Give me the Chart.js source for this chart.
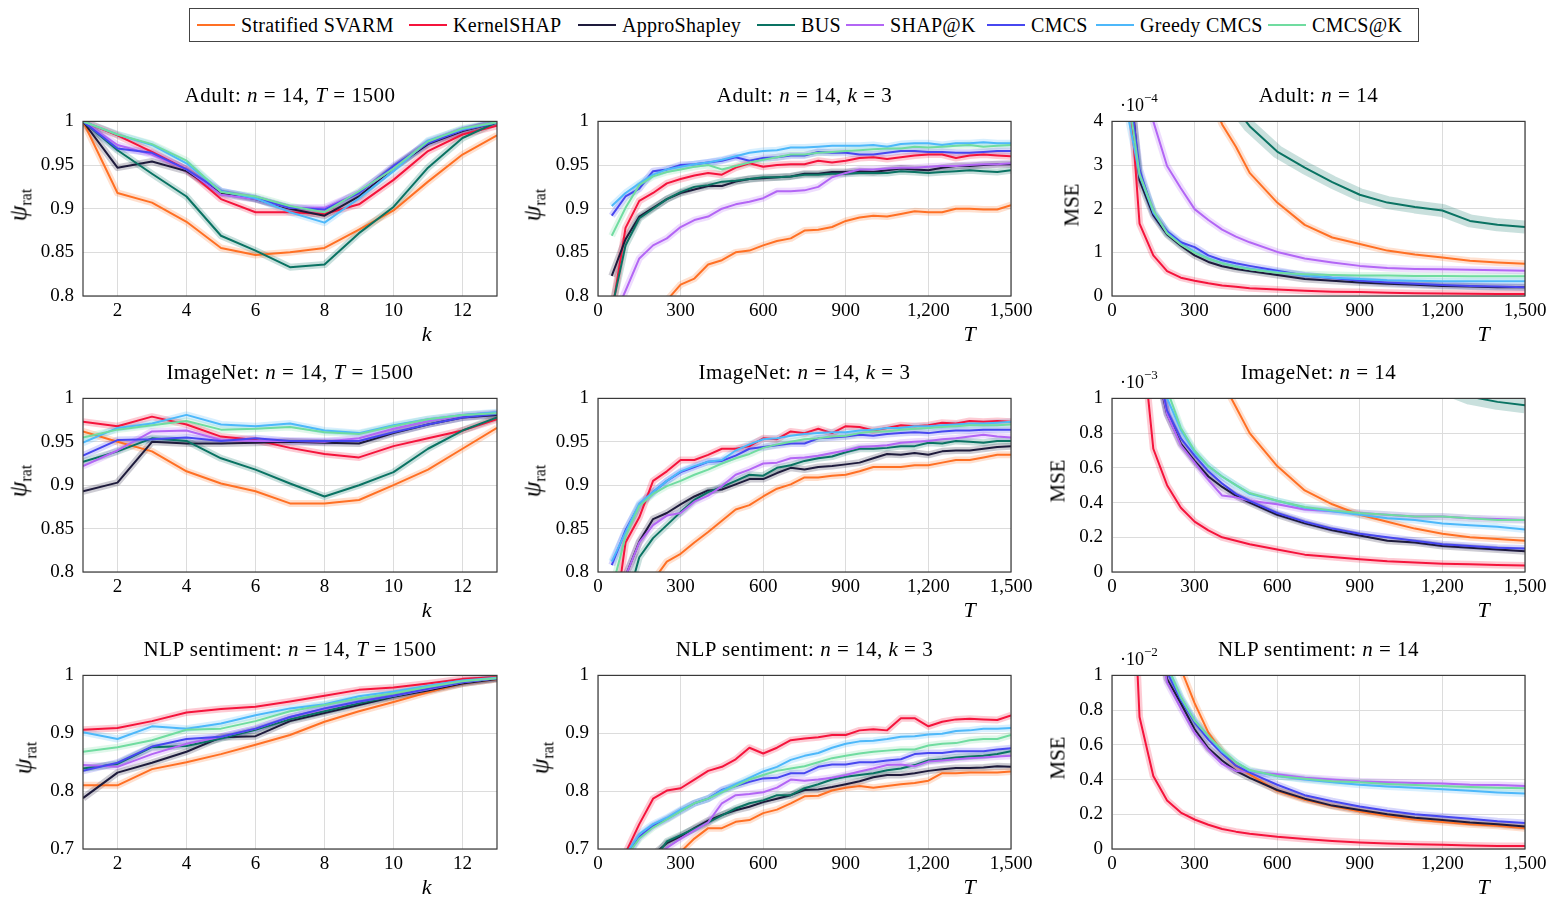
<!DOCTYPE html>
<html>
<head>
<meta charset="utf-8">
<script src="https://cdn.jsdelivr.net/npm/chart.js@4.4.1/dist/chart.umd.min.js"></script>
<style>
  body { margin: 0; background: #fff; font-family: "Liberation Serif", serif; color: #000; }
  #page { position: relative; width: 1563px; height: 901px; overflow: hidden; }
  #page canvas { position: absolute; }
  .lbl { position: absolute; white-space: nowrap; transform: translate(-50%, -50%); line-height: 1; }
  .ttl { font-size: 21px; letter-spacing: 0.5px; }
  .xl { font-size: 22px; font-style: italic; }
  .yl { font-size: 21px; transform: translate(-50%, -50%) rotate(-90deg); }
  .yl i { font-size: 25px; }
  .ex { position: absolute; font-size: 18px; white-space: nowrap; line-height: 1; transform: translateY(-50%); }
  .ex sup { font-size: 13px; position: relative; top: -2px; }
  sub { font-size: 16px; }
  #legend { position: absolute; left: 189px; top: 8px; width: 1230px; height: 34px; border: 1px solid #444; box-sizing: border-box; }
  .item { position: absolute; top: 0; height: 32px; display: flex; align-items: center; font-size: 20px; letter-spacing: 0.3px; white-space: nowrap; }
  .item span.sw { display: inline-block; width: 38px; height: 2px; margin-right: 6px; }
</style>
</head>
<body>
<div id="page">
  <div id="legend"></div>
</div>
<script>
// methods in legend order
const methods = ["Stratified SVARM", "KernelSHAP", "ApproShapley", "BUS", "SHAP@K", "CMCS", "Greedy CMCS", "CMCS@K"];
const lineColors = ["#ff7024", "#f5143c", "#1e1b3c", "#0a7363", "#b366f5", "#4747f0", "#4db8fa", "#70dca0"];

// x values
const kValues = [1, 2, 3, 4, 5, 6, 7, 8, 9, 10, 11, 12, 13];
const tValues = [50, 100, 150, 200, 250, 300, 350, 400, 450, 500, 550, 600, 650, 700, 750,
                 800, 850, 900, 950, 1000, 1050, 1100, 1150, 1200, 1250, 1300, 1350, 1400, 1450, 1500];
const mseT = [50, 100, 150, 200, 250, 300, 350, 400, 450, 500, 600, 700, 800, 900, 1000, 1100, 1200, 1300, 1400, 1500];

// tick labels
const kTicks = [2, 4, 6, 8, 10, 12];
const tTicks = [0, 300, 600, 900, 1200, 1500];
const psiTicks = [0.8, 0.85, 0.9, 0.95, 1];
const psiTicksNlp = [0.7, 0.8, 0.9, 1];
const mseTicksAdult = [0, 1, 2, 3, 4];
const mseTicks = [0, 0.2, 0.4, 0.6, 0.8, 1];

// rows: SVARM, KernelSHAP, ApproShapley, BUS, SHAP@K, CMCS, Greedy CMCS, CMCS@K
const adultK = [
  [1.0, 0.918, 0.907, 0.885, 0.855, 0.847, 0.850, 0.855, 0.876, 0.898, 0.931, 0.962, 0.984],
  [1.0, 0.984, 0.965, 0.945, 0.911, 0.896, 0.896, 0.894, 0.905, 0.933, 0.966, 0.985, 0.995],
  [1.0, 0.947, 0.954, 0.943, 0.918, 0.911, 0.900, 0.892, 0.914, 0.947, 0.974, 0.989, 0.999],
  [1.0, 0.967, 0.940, 0.914, 0.869, 0.852, 0.833, 0.836, 0.872, 0.902, 0.947, 0.981, 0.999],
  [1.0, 0.973, 0.962, 0.945, 0.916, 0.911, 0.901, 0.901, 0.918, 0.947, 0.976, 0.990, 0.999],
  [1.0, 0.969, 0.964, 0.945, 0.920, 0.912, 0.901, 0.899, 0.918, 0.949, 0.975, 0.990, 0.999],
  [1.0, 0.985, 0.973, 0.952, 0.920, 0.912, 0.896, 0.884, 0.912, 0.943, 0.978, 0.991, 0.999],
  [1.0, 0.985, 0.974, 0.955, 0.919, 0.914, 0.903, 0.896, 0.920, 0.946, 0.977, 0.992, 0.999]
];
const adultT = [
  [0.68, 0.73, 0.76, 0.78, 0.795, 0.813, 0.820, 0.836, 0.841, 0.850, 0.852, 0.858, 0.863, 0.866, 0.875, 0.876, 0.879, 0.886, 0.890, 0.892, 0.891, 0.894, 0.897, 0.896, 0.896, 0.900, 0.900, 0.899, 0.899, 0.904],
  [0.78, 0.878, 0.909, 0.918, 0.929, 0.934, 0.938, 0.941, 0.939, 0.947, 0.952, 0.948, 0.950, 0.951, 0.951, 0.955, 0.953, 0.955, 0.958, 0.959, 0.957, 0.959, 0.961, 0.962, 0.962, 0.958, 0.961, 0.962, 0.961, 0.960],
  [0.823, 0.865, 0.891, 0.901, 0.911, 0.918, 0.922, 0.926, 0.926, 0.931, 0.934, 0.935, 0.936, 0.937, 0.940, 0.940, 0.942, 0.942, 0.943, 0.942, 0.944, 0.946, 0.945, 0.944, 0.947, 0.949, 0.949, 0.950, 0.951, 0.951],
  [0.785, 0.858, 0.889, 0.900, 0.911, 0.919, 0.925, 0.927, 0.931, 0.932, 0.934, 0.936, 0.936, 0.937, 0.939, 0.939, 0.940, 0.940, 0.941, 0.941, 0.941, 0.943, 0.942, 0.941, 0.942, 0.943, 0.944, 0.943, 0.942, 0.944],
  [0.77, 0.806, 0.843, 0.858, 0.866, 0.879, 0.887, 0.891, 0.900, 0.905, 0.908, 0.912, 0.920, 0.920, 0.921, 0.925, 0.936, 0.941, 0.945, 0.945, 0.946, 0.947, 0.947, 0.948, 0.949, 0.949, 0.950, 0.951, 0.951, 0.952],
  [0.892, 0.914, 0.923, 0.943, 0.945, 0.950, 0.951, 0.953, 0.955, 0.959, 0.955, 0.958, 0.959, 0.961, 0.961, 0.965, 0.964, 0.964, 0.962, 0.962, 0.964, 0.966, 0.966, 0.965, 0.965, 0.964, 0.964, 0.965, 0.966, 0.966],
  [0.903, 0.918, 0.929, 0.939, 0.945, 0.948, 0.951, 0.953, 0.956, 0.960, 0.964, 0.966, 0.967, 0.970, 0.970, 0.971, 0.972, 0.972, 0.972, 0.973, 0.971, 0.974, 0.975, 0.975, 0.973, 0.975, 0.975, 0.976, 0.975, 0.975],
  [0.869, 0.901, 0.927, 0.937, 0.942, 0.945, 0.948, 0.950, 0.945, 0.949, 0.953, 0.956, 0.959, 0.962, 0.962, 0.964, 0.965, 0.966, 0.967, 0.968, 0.969, 0.969, 0.971, 0.970, 0.971, 0.972, 0.973, 0.971, 0.972, 0.973]
];
// MSE in units of 1e-4
const adultMse = [
  [20, 14, 10, 8, 6.5, 5.4, 4.7, 3.93, 3.42, 2.82, 2.14, 1.63, 1.34, 1.19, 1.04, 0.95, 0.88, 0.81, 0.77, 0.74],
  [6.0, 1.66, 0.93, 0.57, 0.42, 0.35, 0.29, 0.24, 0.21, 0.18, 0.15, 0.12, 0.10, 0.09, 0.075, 0.065, 0.06, 0.05, 0.045, 0.045],
  [6.0, 2.65, 1.85, 1.41, 1.15, 0.93, 0.78, 0.68, 0.62, 0.57, 0.48, 0.39, 0.35, 0.31, 0.28, 0.26, 0.23, 0.22, 0.20, 0.20],
  [20, 13, 10, 8.5, 7, 6, 5.4, 4.8, 4.3, 3.89, 3.31, 2.94, 2.61, 2.32, 2.14, 2.04, 1.96, 1.72, 1.63, 1.58],
  [9, 6, 4.0, 2.98, 2.47, 1.99, 1.74, 1.52, 1.36, 1.23, 1.01, 0.86, 0.77, 0.69, 0.64, 0.62, 0.61, 0.60, 0.59, 0.58],
  [5.5, 2.9, 1.9, 1.48, 1.23, 1.12, 0.93, 0.82, 0.75, 0.69, 0.58, 0.47, 0.41, 0.35, 0.31, 0.28, 0.25, 0.23, 0.22, 0.20],
  [4.4, 2.76, 1.92, 1.45, 1.19, 1.01, 0.86, 0.75, 0.68, 0.62, 0.55, 0.47, 0.42, 0.39, 0.36, 0.35, 0.34, 0.34, 0.34, 0.34],
  [5.0, 2.8, 1.96, 1.43, 1.18, 0.99, 0.85, 0.75, 0.67, 0.61, 0.53, 0.50, 0.48, 0.47, 0.47, 0.46, 0.46, 0.45, 0.45, 0.45]
];

const imagenetK = [
  [0.962, 0.950, 0.939, 0.916, 0.902, 0.893, 0.879, 0.879, 0.883, 0.900, 0.918, 0.942, 0.966],
  [0.973, 0.968, 0.979, 0.970, 0.956, 0.952, 0.943, 0.936, 0.932, 0.945, 0.954, 0.963, 0.976],
  [0.893, 0.903, 0.950, 0.948, 0.948, 0.949, 0.950, 0.949, 0.948, 0.960, 0.970, 0.978, 0.981],
  [0.927, 0.939, 0.954, 0.951, 0.931, 0.918, 0.902, 0.887, 0.900, 0.915, 0.942, 0.963, 0.978],
  [0.922, 0.940, 0.962, 0.963, 0.952, 0.951, 0.951, 0.950, 0.954, 0.965, 0.974, 0.980, 0.983],
  [0.934, 0.952, 0.953, 0.955, 0.951, 0.954, 0.951, 0.951, 0.951, 0.961, 0.970, 0.978, 0.982],
  [0.949, 0.966, 0.971, 0.981, 0.970, 0.968, 0.971, 0.963, 0.960, 0.969, 0.976, 0.981, 0.984],
  [0.955, 0.964, 0.969, 0.974, 0.964, 0.965, 0.967, 0.961, 0.959, 0.968, 0.976, 0.981, 0.983]
];
const imagenetT = [
  [0.65, 0.70, 0.75, 0.79, 0.812, 0.821, 0.834, 0.846, 0.859, 0.872, 0.877, 0.887, 0.896, 0.901, 0.909, 0.909, 0.911, 0.912, 0.916, 0.921, 0.921, 0.921, 0.923, 0.923, 0.926, 0.929, 0.929, 0.932, 0.935, 0.935],
  [0.72, 0.834, 0.863, 0.905, 0.916, 0.929, 0.929, 0.935, 0.942, 0.942, 0.945, 0.954, 0.953, 0.962, 0.960, 0.965, 0.960, 0.968, 0.967, 0.963, 0.966, 0.969, 0.968, 0.969, 0.972, 0.971, 0.974, 0.973, 0.974, 0.973],
  [0.70, 0.795, 0.835, 0.861, 0.868, 0.878, 0.887, 0.894, 0.895, 0.901, 0.907, 0.907, 0.914, 0.920, 0.918, 0.921, 0.922, 0.924, 0.926, 0.931, 0.936, 0.935, 0.937, 0.935, 0.939, 0.940, 0.940, 0.942, 0.944, 0.945],
  [0.70, 0.76, 0.817, 0.839, 0.854, 0.869, 0.883, 0.892, 0.898, 0.905, 0.912, 0.911, 0.920, 0.923, 0.928, 0.931, 0.933, 0.938, 0.942, 0.942, 0.943, 0.945, 0.945, 0.949, 0.948, 0.951, 0.950, 0.949, 0.951, 0.951],
  [0.72, 0.795, 0.834, 0.854, 0.865, 0.868, 0.881, 0.888, 0.899, 0.912, 0.918, 0.925, 0.926, 0.931, 0.932, 0.934, 0.937, 0.940, 0.944, 0.945, 0.946, 0.949, 0.950, 0.951, 0.953, 0.954, 0.956, 0.958, 0.956, 0.955],
  [0.808, 0.848, 0.877, 0.892, 0.905, 0.915, 0.921, 0.927, 0.928, 0.934, 0.942, 0.944, 0.946, 0.948, 0.948, 0.954, 0.955, 0.956, 0.958, 0.957, 0.959, 0.960, 0.961, 0.960, 0.962, 0.963, 0.963, 0.964, 0.964, 0.964],
  [0.812, 0.846, 0.879, 0.892, 0.905, 0.916, 0.922, 0.927, 0.929, 0.940, 0.947, 0.953, 0.954, 0.957, 0.959, 0.960, 0.961, 0.961, 0.963, 0.964, 0.966, 0.966, 0.968, 0.968, 0.969, 0.970, 0.971, 0.971, 0.972, 0.973],
  [0.78, 0.841, 0.876, 0.890, 0.899, 0.905, 0.912, 0.918, 0.925, 0.931, 0.936, 0.943, 0.947, 0.950, 0.953, 0.954, 0.956, 0.957, 0.960, 0.962, 0.962, 0.964, 0.965, 0.966, 0.967, 0.968, 0.969, 0.969, 0.969, 0.970]
];
// MSE in units of 1e-3
const imagenetMse = [
  [3, 2.5, 2, 1.7, 1.45, 1.3, 1.18, 1.1, 0.95, 0.80, 0.61, 0.47, 0.39, 0.33, 0.29, 0.25, 0.22, 0.20, 0.19, 0.18],
  [3, 1.5, 0.71, 0.50, 0.37, 0.29, 0.24, 0.20, 0.18, 0.16, 0.13, 0.10, 0.086, 0.073, 0.062, 0.055, 0.048, 0.044, 0.040, 0.037],
  [3, 1.8, 1.25, 0.91, 0.74, 0.64, 0.55, 0.49, 0.44, 0.40, 0.33, 0.28, 0.24, 0.21, 0.18, 0.17, 0.15, 0.14, 0.13, 0.12],
  [8, 6, 5, 4.2, 3.6, 3.2, 2.8, 2.5, 2.3, 2.1, 1.8, 1.6, 1.45, 1.32, 1.22, 1.14, 1.07, 1.01, 0.98, 0.96],
  [3, 1.8, 1.3, 0.91, 0.73, 0.63, 0.53, 0.44, 0.43, 0.41, 0.39, 0.36, 0.35, 0.34, 0.33, 0.32, 0.32, 0.31, 0.305, 0.30],
  [3, 1.9, 1.3, 0.93, 0.77, 0.67, 0.58, 0.51, 0.45, 0.41, 0.34, 0.29, 0.25, 0.22, 0.20, 0.18, 0.16, 0.15, 0.14, 0.135],
  [3.2, 2.0, 1.4, 1.0, 0.82, 0.69, 0.61, 0.55, 0.50, 0.45, 0.41, 0.37, 0.35, 0.33, 0.31, 0.30, 0.28, 0.27, 0.26, 0.245],
  [3.3, 2.1, 1.45, 1.05, 0.83, 0.70, 0.61, 0.55, 0.50, 0.455, 0.41, 0.375, 0.355, 0.34, 0.33, 0.32, 0.32, 0.31, 0.30, 0.30]
];

const nlpK = [
  [0.810, 0.810, 0.838, 0.850, 0.864, 0.880, 0.897, 0.920, 0.938, 0.954, 0.971, 0.986, 0.994],
  [0.906, 0.909, 0.921, 0.936, 0.942, 0.946, 0.955, 0.965, 0.975, 0.979, 0.986, 0.994, 0.997],
  [0.788, 0.832, 0.849, 0.868, 0.893, 0.895, 0.921, 0.935, 0.949, 0.963, 0.974, 0.986, 0.994],
  [0.839, 0.847, 0.876, 0.878, 0.891, 0.906, 0.924, 0.938, 0.952, 0.964, 0.976, 0.988, 0.995],
  [0.845, 0.842, 0.864, 0.882, 0.894, 0.908, 0.928, 0.942, 0.955, 0.965, 0.976, 0.988, 0.995],
  [0.835, 0.849, 0.877, 0.890, 0.894, 0.908, 0.928, 0.943, 0.955, 0.965, 0.977, 0.988, 0.995],
  [0.902, 0.890, 0.912, 0.908, 0.917, 0.931, 0.943, 0.950, 0.964, 0.972, 0.982, 0.991, 0.996],
  [0.868, 0.876, 0.888, 0.906, 0.908, 0.921, 0.938, 0.949, 0.960, 0.969, 0.980, 0.990, 0.995]
];
const nlpT = [
  [0.50, 0.55, 0.59, 0.63, 0.66, 0.695, 0.718, 0.736, 0.736, 0.747, 0.750, 0.762, 0.768, 0.779, 0.791, 0.792, 0.801, 0.806, 0.809, 0.806, 0.809, 0.812, 0.814, 0.818, 0.831, 0.831, 0.832, 0.832, 0.832, 0.834],
  [0.60, 0.693, 0.743, 0.787, 0.801, 0.805, 0.820, 0.835, 0.842, 0.855, 0.875, 0.865, 0.875, 0.888, 0.891, 0.893, 0.897, 0.897, 0.905, 0.907, 0.905, 0.926, 0.926, 0.912, 0.920, 0.924, 0.925, 0.924, 0.923, 0.931],
  [0.55, 0.60, 0.65, 0.69, 0.710, 0.722, 0.736, 0.749, 0.759, 0.767, 0.773, 0.781, 0.787, 0.793, 0.802, 0.803, 0.807, 0.812, 0.817, 0.824, 0.828, 0.828, 0.831, 0.835, 0.838, 0.840, 0.840, 0.841, 0.843, 0.842],
  [0.55, 0.60, 0.64, 0.68, 0.713, 0.724, 0.735, 0.746, 0.758, 0.770, 0.779, 0.784, 0.793, 0.793, 0.805, 0.812, 0.820, 0.825, 0.828, 0.831, 0.836, 0.839, 0.845, 0.853, 0.855, 0.858, 0.860, 0.861, 0.864, 0.869],
  [0.55, 0.60, 0.64, 0.68, 0.702, 0.718, 0.732, 0.746, 0.779, 0.793, 0.795, 0.798, 0.806, 0.820, 0.818, 0.820, 0.823, 0.828, 0.834, 0.839, 0.845, 0.846, 0.843, 0.851, 0.853, 0.855, 0.857, 0.858, 0.860, 0.861],
  [0.60, 0.685, 0.721, 0.740, 0.752, 0.766, 0.779, 0.787, 0.802, 0.809, 0.816, 0.822, 0.823, 0.831, 0.831, 0.842, 0.846, 0.846, 0.850, 0.850, 0.853, 0.855, 0.864, 0.866, 0.866, 0.869, 0.869, 0.869, 0.872, 0.874],
  [0.60, 0.69, 0.726, 0.743, 0.754, 0.768, 0.779, 0.787, 0.801, 0.812, 0.823, 0.834, 0.842, 0.854, 0.861, 0.866, 0.875, 0.882, 0.886, 0.887, 0.890, 0.894, 0.895, 0.898, 0.899, 0.904, 0.905, 0.908, 0.908, 0.909],
  [0.60, 0.685, 0.718, 0.737, 0.751, 0.765, 0.779, 0.787, 0.798, 0.809, 0.820, 0.828, 0.835, 0.839, 0.843, 0.850, 0.857, 0.861, 0.865, 0.868, 0.870, 0.872, 0.872, 0.879, 0.882, 0.883, 0.888, 0.890, 0.890, 0.897]
];
// MSE in units of 1e-2 (BUS stays above the plotted range)
const nlpMse = [
  [5, 3, 2, 1.4, 1.04, 0.84, 0.67, 0.56, 0.48, 0.43, 0.335, 0.284, 0.247, 0.216, 0.19, 0.17, 0.156, 0.143, 0.134, 0.12],
  [2.5, 0.76, 0.42, 0.28, 0.21, 0.17, 0.14, 0.115, 0.10, 0.088, 0.07, 0.057, 0.046, 0.038, 0.031, 0.027, 0.024, 0.02, 0.018, 0.017],
  [3.5, 2.1, 1.4, 0.98, 0.84, 0.69, 0.58, 0.51, 0.45, 0.41, 0.34, 0.29, 0.25, 0.225, 0.20, 0.18, 0.167, 0.152, 0.143, 0.13],
  [],
  [3.5, 2.1, 1.35, 0.96, 0.81, 0.67, 0.57, 0.49, 0.45, 0.445, 0.43, 0.41, 0.40, 0.39, 0.385, 0.38, 0.377, 0.37, 0.368, 0.363],
  [3.5, 2.2, 1.45, 1.02, 0.86, 0.73, 0.63, 0.55, 0.48, 0.44, 0.37, 0.31, 0.275, 0.245, 0.22, 0.20, 0.187, 0.174, 0.16, 0.15],
  [3.6, 2.2, 1.5, 1.05, 0.87, 0.74, 0.65, 0.56, 0.50, 0.45, 0.42, 0.40, 0.385, 0.37, 0.36, 0.353, 0.344, 0.335, 0.326, 0.32],
  [3.6, 2.2, 1.5, 1.06, 0.875, 0.74, 0.65, 0.57, 0.50, 0.455, 0.42, 0.405, 0.39, 0.385, 0.375, 0.368, 0.363, 0.357, 0.353, 0.35]
];

// layout
const colLeft = [83, 598, 1112];
const colWidth = [414, 413, 413];
const rowTop = [113, 390, 667];
const rowHeight = [183, 182, 182];
const AXW = 70, AXH = 40, PADT = 12, PADR = 28;
const legendX = [197, 409, 578, 757, 846, 987, 1096, 1268];

const PSI = '<i>ψ</i><sub>rat</sub>';
const panels = [
  { title: 'Adult: <i>n</i> = 14, <i>T</i> = 1500', x: kValues, s: adultK, xt: kTicks, yt: psiTicks, xr: [1, 13], yr: [0.8, 1], yl: PSI, yo: 63, xl: 'k', xf: 0.83 },
  { title: 'Adult: <i>n</i> = 14, <i>k</i> = 3', x: tValues, s: adultT, xt: tTicks, yt: psiTicks, xr: [0, 1500], yr: [0.8, 1], yl: PSI, yo: 64, xl: 'T', xf: 0.9 },
  { title: 'Adult: <i>n</i> = 14', x: mseT, s: adultMse, xt: tTicks, yt: mseTicksAdult, xr: [0, 1500], yr: [0, 4], yl: 'MSE', yo: 40, xl: 'T', xf: 0.9, ex: '−4', wide: [3, 13] },
  { title: 'ImageNet: <i>n</i> = 14, <i>T</i> = 1500', x: kValues, s: imagenetK, xt: kTicks, yt: psiTicks, xr: [1, 13], yr: [0.8, 1], yl: PSI, yo: 63, xl: 'k', xf: 0.83 },
  { title: 'ImageNet: <i>n</i> = 14, <i>k</i> = 3', x: tValues, s: imagenetT, xt: tTicks, yt: psiTicks, xr: [0, 1500], yr: [0.8, 1], yl: PSI, yo: 64, xl: 'T', xf: 0.9 },
  { title: 'ImageNet: <i>n</i> = 14', x: mseT, s: imagenetMse, xt: tTicks, yt: mseTicks, xr: [0, 1500], yr: [0, 1], yl: 'MSE', yo: 54, xl: 'T', xf: 0.9, ex: '−3', wide: [3, 16] },
  { title: 'NLP sentiment: <i>n</i> = 14, <i>T</i> = 1500', x: kValues, s: nlpK, xt: kTicks, yt: psiTicksNlp, xr: [1, 13], yr: [0.7, 1], yl: PSI, yo: 58, xl: 'k', xf: 0.83 },
  { title: 'NLP sentiment: <i>n</i> = 14, <i>k</i> = 3', x: tValues, s: nlpT, xt: tTicks, yt: psiTicksNlp, xr: [0, 1500], yr: [0.7, 1], yl: PSI, yo: 56, xl: 'T', xf: 0.9 },
  { title: 'NLP sentiment: <i>n</i> = 14', x: mseT, s: nlpMse, xt: tTicks, yt: mseTicks, xr: [0, 1500], yr: [0, 1], yl: 'MSE', yo: 54, xl: 'T', xf: 0.9, ex: '−2' }
];

Chart.defaults.font.family = "'Liberation Serif', serif";
Chart.defaults.font.size = 19;
Chart.defaults.color = '#000';

let page = document.getElementById('page');

function rgba(hex, a) {
  let n = parseInt(hex.slice(1), 16);
  return 'rgba(' + (n >> 16) + ',' + ((n >> 8) & 255) + ',' + (n & 255) + ',' + a + ')';
}

function addLabel(cls, html, x, y) {
  let d = document.createElement('div');
  d.className = cls;
  d.innerHTML = html;
  d.style.left = x + 'px';
  d.style.top = y + 'px';
  page.appendChild(d);
}

// frame round the plot area
const frame = {
  id: 'frame',
  afterDatasetsDraw(chart) {
    let a = chart.chartArea, ctx = chart.ctx;
    ctx.save();
    ctx.strokeStyle = '#3a3a3a';
    ctx.lineWidth = 1.2;
    ctx.strokeRect(a.left, a.top, a.right - a.left, a.bottom - a.top);
    ctx.restore();
  }
};

panels.forEach((p, idx) => {
  let col = idx % 3, row = Math.floor(idx / 3);
  let L = colLeft[col], T0 = rowTop[row], W = colWidth[col], H = rowHeight[row];

  let cv = document.createElement('canvas');
  cv.width = AXW + W + PADR;
  cv.height = PADT + H + AXH;
  cv.style.left = (L - AXW) + 'px';
  cv.style.top = (T0 - PADT) + 'px';
  page.appendChild(cv);

  let datasets = [];
  p.s.forEach((ys, i) => {
    let pts = ys.map((y, j) => ({ x: p.x[j], y: y }));
    let bw = (p.wide && p.wide[0] === i) ? p.wide[1] : 7;
    datasets.push({ label: methods[i] + ' band', data: pts, borderColor: rgba(lineColors[i], 0.22), borderWidth: bw,
      order: 10, clip: 0, pointRadius: 0, borderCapStyle: 'butt', borderJoinStyle: 'round' });
    datasets.push({ label: methods[i], data: pts, borderColor: lineColors[i], borderWidth: 2,
      order: -i, clip: 0, pointRadius: 0, borderJoinStyle: 'round' });
  });

  new Chart(cv, {
    type: 'line',
    data: { datasets: datasets },
    options: {
      responsive: false,
      animation: false,
      devicePixelRatio: 1,
      layout: { padding: { top: PADT, right: PADR, left: 0, bottom: 0 } },
      plugins: { legend: { display: false }, tooltip: { enabled: false } },
      elements: { line: { tension: 0 }, point: { radius: 0 } },
      scales: {
        x: {
          type: 'linear', min: p.xr[0], max: p.xr[1],
          afterBuildTicks: s => { s.ticks = p.xt.map(v => ({ value: v })); },
          afterFit: s => { s.height = AXH; },
          ticks: { padding: 4, maxRotation: 0, autoSkip: false, callback: v => v.toLocaleString('en-US') },
          grid: { color: '#dcdcdc', drawTicks: false },
          border: { display: false }
        },
        y: {
          type: 'linear', min: p.yr[0], max: p.yr[1],
          afterBuildTicks: s => { s.ticks = p.yt.map(v => ({ value: v })); },
          afterFit: s => { s.width = AXW; },
          ticks: { padding: 9, autoSkip: false, callback: v => v.toLocaleString('en-US') },
          grid: { color: '#dcdcdc', drawTicks: false },
          border: { display: false }
        }
      }
    },
    plugins: [frame]
  });

  addLabel('lbl ttl', p.title, L + W / 2, T0 - 18);
  addLabel('lbl xl', p.xl, L + W * p.xf, T0 + H + 38);
  addLabel('lbl yl', p.yl, L - p.yo, T0 + H / 2);
  if (p.ex) {
    let d = document.createElement('div');
    d.className = 'ex';
    d.innerHTML = '·10<sup>' + p.ex + '</sup>';
    d.style.left = (L + 8) + 'px';
    d.style.top = (T0 - 10) + 'px';
    page.appendChild(d);
  }
});

// legend
let legend = document.getElementById('legend');
methods.forEach((m, i) => {
  let it = document.createElement('div');
  it.className = 'item';
  it.style.left = (legendX[i] - 190) + 'px';
  it.innerHTML = '<span class="sw" style="background:' + lineColors[i] + '"></span>' + m;
  legend.appendChild(it);
});
</script>
</body>
</html>
